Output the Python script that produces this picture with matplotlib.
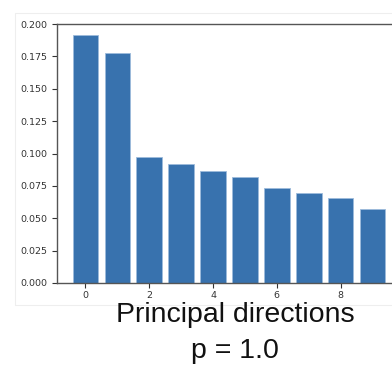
import numpy as np
import matplotlib.pyplot as plt
from matplotlib.patches import Rectangle

components = list(range(10))
variance = [0.1915, 0.1774, 0.0975, 0.0917, 0.0865, 0.0816, 0.0736, 0.0697, 0.0654, 0.0569]
yticks = [0.0, 0.025, 0.05, 0.075, 0.1, 0.125, 0.15, 0.175, 0.2]

fig = plt.figure(figsize=(3.92, 3.65), dpi=100)
# faint border of the pasted plot image
fig.patches.append(Rectangle((15/392, 1-305/365), 1.0, (305-13)/365, transform=fig.transFigure,
                             fill=False, edgecolor='#eeeeee', linewidth=0.8))
ax = fig.add_axes([57/392, 1-283/365, 344/392, 259/365])
ax.bar(components, variance, width=0.8, color='#3872ae', edgecolor='#9dbbdb', linewidth=0.6)
ax.set_ylim(0, 0.2)
ax.set_yticks(yticks)
ax.set_yticklabels(["%.3f" % v for v in yticks])
ax.set_xticks([0, 2, 4, 6, 8])
ax.tick_params(labelsize=6.8, colors='#333333', length=3.5, width=0.8)
ax.tick_params(axis='x', pad=2)
for s in ax.spines.values():
    s.set_color('#555555')
    s.set_linewidth(1.0)

fig.text(235/392, 1-322/365, "Principal directions", ha='center', va='baseline',
         fontsize=20.5, family='Liberation Sans', color='#111111')
fig.text(235/392, 1-358/365, "p = 1.0", ha='center', va='baseline',
         fontsize=20.5, family='Liberation Sans', color='#111111')

fig.savefig('out.png', dpi=100)
